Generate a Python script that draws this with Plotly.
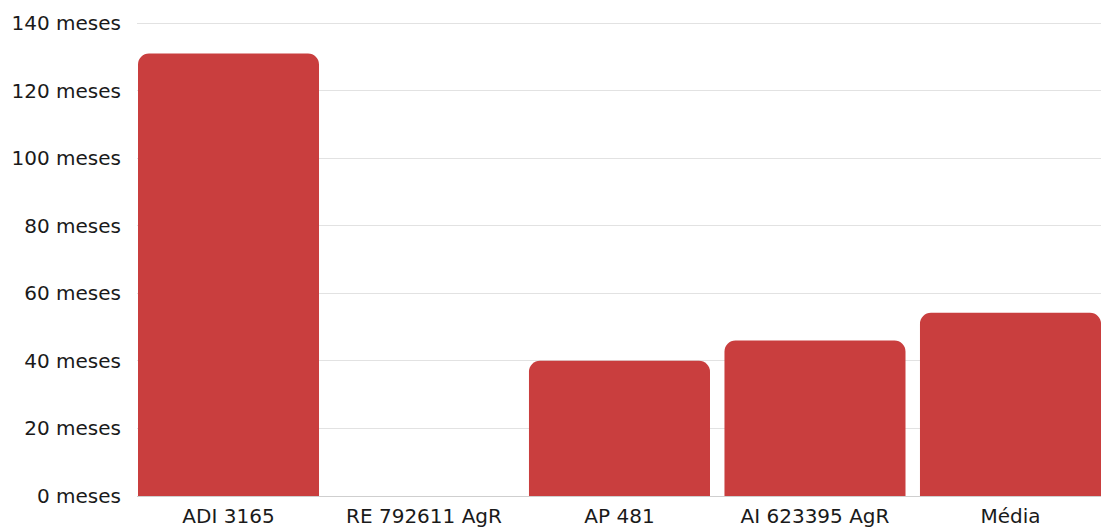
import plotly.graph_objects as go

categories = ["ADI 3165", "RE 792611 AgR", "AP 481", "AI 623395 AgR", "Média"]
months = [131, 0, 40, 46, 54.25]
y_ticks = [0, 20, 40, 60, 80, 100, 120, 140]
y_tick_labels = [f"{v} meses" for v in y_ticks]

bar_color = "#C93E3E"
text_color = "#1a1a1a"
font_family = "DejaVu Sans, Verdana, sans-serif"

fig = go.Figure(
    go.Bar(
        x=list(range(len(categories))),
        y=months,
        width=0.926,
        marker=dict(color=bar_color, cornerradius=11, line=dict(width=0)),
        hoverinfo="skip",
    )
)

fig.update_layout(
    width=1101,
    height=528,
    margin=dict(l=137, r=0, t=22, b=32),
    paper_bgcolor="white",
    plot_bgcolor="white",
    showlegend=False,
    font=dict(family=font_family, size=20, color=text_color),
)

fig.update_xaxes(
    range=[-0.468, 4.463],
    tickmode="array",
    tickvals=list(range(len(categories))),
    ticktext=categories,
    showgrid=False,
    zeroline=False,
    showline=True,
    linecolor="#cfcfcf",
    linewidth=1,
    ticks="",
    tickfont=dict(size=20),
    ticklabelstandoff=2,
)

fig.update_yaxes(
    range=[0, 140.3],
    tickmode="array",
    tickvals=y_ticks,
    ticktext=y_tick_labels,
    showgrid=True,
    gridcolor="#e2e2e2",
    gridwidth=1,
    zeroline=False,
    showline=False,
    ticks="",
    tickfont=dict(size=20),
    ticklabelstandoff=15,
)

fig.write_html("out.html")
